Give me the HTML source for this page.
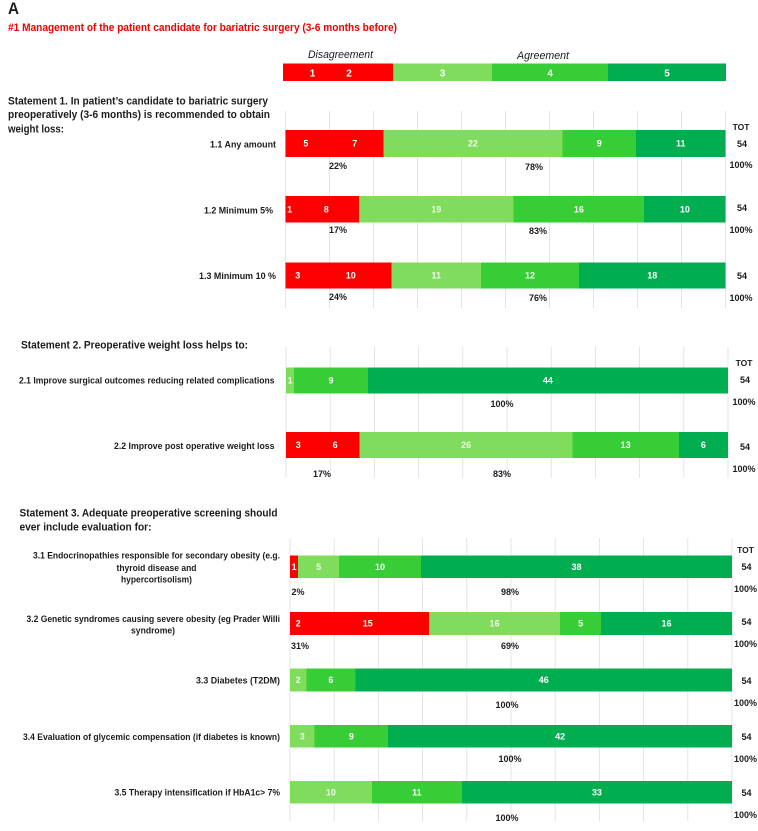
<!DOCTYPE html>
<html lang="en">
<head>
<meta charset="utf-8">
<title>Management of the patient candidate for bariatric surgery</title>
<style>
html,body{margin:0;padding:0;background:#fff;}
svg{display:block;}
text{font-family:"Liberation Sans",Arial,sans-serif;font-weight:bold;fill:#1c1c1c;}
rect{shape-rendering:crispEdges;}
</style>
</head>
<body>
<svg id="chart" xmlns="http://www.w3.org/2000/svg" width="758" height="831" viewBox="0 0 758 831">
  <rect x="0" y="0" width="758" height="831" fill="#fff"/>
  <text x="8" y="14" font-size="17" textLength="11" lengthAdjust="spacingAndGlyphs">A</text>
  <text x="8" y="31" font-size="11" style="fill:#f00000" textLength="389" lengthAdjust="spacingAndGlyphs">#1 Management of the patient candidate for bariatric surgery (3-6 months before)</text>
  <text x="308" y="58" font-size="11" style="font-weight:normal;font-style:italic" textLength="65" lengthAdjust="spacingAndGlyphs">Disagreement</text>
  <text x="517" y="59" font-size="11" style="font-weight:normal;font-style:italic" textLength="52" lengthAdjust="spacingAndGlyphs">Agreement</text>
  <g id="legend"></g>
  <text x="8" y="104.5" font-size="11" textLength="260" lengthAdjust="spacingAndGlyphs">Statement 1. In patient’s candidate to bariatric surgery</text>
  <text x="8" y="118" font-size="11" textLength="262" lengthAdjust="spacingAndGlyphs">preoperatively (3-6 months) is recommended to obtain</text>
  <text x="8" y="132.5" font-size="11" textLength="56" lengthAdjust="spacingAndGlyphs">weight loss:</text>
  <text x="21" y="348.5" font-size="11" textLength="227" lengthAdjust="spacingAndGlyphs">Statement 2. Preoperative weight loss helps to:</text>
  <text x="19.5" y="516.5" font-size="11" textLength="258" lengthAdjust="spacingAndGlyphs">Statement 3. Adequate preoperative screening should</text>
  <text x="19.5" y="530.5" font-size="11" textLength="132" lengthAdjust="spacingAndGlyphs">ever include evaluation for:</text>
  <g id="plot"></g>
</svg>
<script>
// ---- chart data ----
const rowCategories = ["1.1 Any amount","1.2 Minimum 5%","1.3 Minimum 10 %","2.1 Improve surgical outcomes reducing related complications","2.2 Improve post operative weight loss","3.1 Endocrinopathies","3.2 Genetic syndromes","3.3 Diabetes (T2DM)","3.4 Evaluation of glycemic compensation (if diabetes is known)","3.5 Therapy intensification if HbA1c> 7%"];
const answer1 = [5,1,3,0,3,0,2,0,0,0];
const answer2 = [7,8,10,0,6,1,15,0,0,0];
const answer3 = [22,19,11,1,26,5,16,2,3,10];
const answer4 = [9,16,12,9,13,10,5,6,9,11];
const answer5 = [11,10,18,44,6,38,16,46,42,33];
const disagreeLabels = ["22%","17%","24%","","17%","2%","31%","","",""];
const agreeLabels = ["78%","83%","76%","100%","83%","98%","69%","100%","100%","100%"];
const totalLabels = ["54","54","54","54","54","54","54","54","54","54"];
const totalPctLabels = ["100%","100%","100%","100%","100%","100%","100%","100%","100%","100%"];
const legendLabels = ["1","2","3","4","5"];
const legendShares = [0.248,0.224,0.262,0.266];
const axisMax = 54;
const gridDivisions = 10;

// ---- layout (not data) ----
const colors = ["#ff0000","#ff0000","#80dc5c","#36cd36","#00ae50"];
const panels = [
  {x0:285.5,x1:725.6,top:111,bottom:308,totX:741,rows:[0,1,2],totY:127},
  {x0:286,x1:728,top:347,bottom:478,totX:744,rows:[3,4],totY:363},
  {x0:290,x1:732,top:538,bottom:821,totX:745.5,rows:[5,6,7,8,9],totY:550}
];
const rowLayout = [
  {t:130,b:157,lx:276,lw:66,ly:144,dx:338,dy:166,ax:534,ay:167,ty:144,py:165},
  {t:196,b:222.5,lx:273,lw:69,ly:210,dx:338,dy:230,ax:538,ay:231,ty:208,py:230},
  {t:262.7,b:288.3,lx:276,lw:77,ly:275.5,dx:338,dy:297,ax:538,ay:298,ty:276,py:298},
  {t:367.3,b:393.3,lx:274.5,lw:255.5,ly:380,dx:0,dy:0,ax:502,ay:404,ty:380,py:402},
  {t:432,b:458,lx:274.5,lw:160.5,ly:445.5,dx:322,dy:474,ax:502,ay:474,ty:447,py:469},
  {t:555.7,b:578,lx:0,lw:0,ly:0,dx:298,dy:592,ax:510,ay:592,ty:567,py:589},
  {t:612,b:635,lx:0,lw:0,ly:0,dx:300,dy:646,ax:510,ay:646,ty:622,py:644},
  {t:668.7,b:691.3,lx:280,lw:84,ly:680,dx:0,dy:0,ax:507,ay:705,ty:681,py:703},
  {t:725,b:747.3,lx:280,lw:257,ly:736.5,dx:0,dy:0,ax:510,ay:759,ty:737,py:759},
  {t:781,b:803.7,lx:280,lw:165.5,ly:792,dx:0,dy:0,ax:507,ay:818,ty:793,py:815}
];

const NS = "http://www.w3.org/2000/svg";
const plot = document.getElementById("plot");
const legend = document.getElementById("legend");

function makeText(parent, x, yCenter, str, size, anchor, fill, width) {
  const el = document.createElementNS(NS, "text");
  el.setAttribute("x", x);
  el.setAttribute("y", yCenter + size * 0.36);
  el.setAttribute("font-size", size);
  el.setAttribute("text-anchor", anchor);
  if (fill) el.style.fill = fill;
  if (width) {
    el.setAttribute("textLength", width);
    el.setAttribute("lengthAdjust", "spacingAndGlyphs");
  }
  el.textContent = str;
  parent.appendChild(el);
  return el;
}

function makeRect(parent, x, y, w, h, fill) {
  const el = document.createElementNS(NS, "rect");
  el.setAttribute("x", x);
  el.setAttribute("y", y);
  el.setAttribute("width", w);
  el.setAttribute("height", h);
  el.setAttribute("fill", fill);
  parent.appendChild(el);
  return el;
}

// legend bar
(function () {
  const lx0 = 283, lx1 = 726, ly0 = 63.5, ly1 = 81;
  const w = lx1 - lx0;
  let cur = lx0;
  const redRect = makeRect(legend, cur, ly0, w * legendShares[0], ly1 - ly0, colors[0]);
  
  
  const l1 = makeText(legend, 312.5, 73, legendLabels[0], 10, "middle", "#fff");
  
  
  const l2 = makeText(legend, 349, 73, legendLabels[1], 10, "middle", "#fff");
  
  
  cur += w * legendShares[0];
  for (let i = 1; i < legendShares.length; i++) {
    const segW = w * legendShares[i];
    const r = makeRect(legend, cur, ly0, segW, ly1 - ly0, colors[i + 1]);
    
    
    const t = makeText(legend, cur + segW / 2, 73, legendLabels[i + 1], 10, "middle", "#fff");
    
    
    cur += segW;
  }
})();

const series = [answer1, answer2, answer3, answer4, answer5];

panels.forEach(function (p) {
  const scale = function (v) { return p.x0 + (v / axisMax) * (p.x1 - p.x0); };
  // gridlines
  for (let g = 0; g <= gridDivisions; g++) {
    const gx = scale(axisMax * g / gridDivisions);
    const line = document.createElementNS(NS, "line");
    line.setAttribute("x1", gx);
    line.setAttribute("x2", gx);
    line.setAttribute("y1", p.top);
    line.setAttribute("y2", p.bottom);
    line.setAttribute("stroke", "#dedede");
    line.setAttribute("stroke-width", "0.8");
    
    
    plot.appendChild(line);
  }
  const tot = makeText(plot, p.totX, p.totY, "TOT", 8.5, "middle");
  
  

  p.rows.forEach(function (ri) {
    const L = rowLayout[ri];
    let cum = 0;
    series.forEach(function (s, si) {
      const v = s[ri];
      if (v > 0) {
        const xa = scale(cum), xb = scale(cum + v);
        const r = makeRect(plot, xa, L.t, xb - xa, L.b - L.t, colors[si]);
        
        
      }
      cum += v;
    });
    cum = 0;
    series.forEach(function (s, si) {
      const v = s[ri];
      if (v > 0) {
        const xm = scale(cum + v / 2);
        const t = makeText(plot, xm, (L.t + L.b) / 2, String(v), 9, "middle", si === 2 ? "#eefae8" : "#fff");
        
        
      }
      cum += v;
    });
    if (L.lw > 0) {
      const c = makeText(plot, L.lx - L.lw, L.ly, rowCategories[ri], 9.5, "start", null, L.lw);
      
      
    }
    if (disagreeLabels[ri]) {
      const d = makeText(plot, L.dx, L.dy, disagreeLabels[ri], 9, "middle");
      
      
    }
    const a = makeText(plot, L.ax, L.ay, agreeLabels[ri], 9, "middle");
    
    
    const tv = makeText(plot, p.totX + 1, L.ty, totalLabels[ri], 9, "middle");
    
    
    const tp = makeText(plot, p.totX, L.py, totalPctLabels[ri], 9, "middle");
    
    
  });
});

// multi-line row labels
const l31a = makeText(plot, 33, 555, "3.1 Endocrinopathies responsible for secondary obesity (e.g.", 9.5, "start", null, 247);


const l31b = makeText(plot, 116.5, 567.7, "thyroid disease and", 9.5, "start", null, 80);


const l31c = makeText(plot, 121, 579, "hypercortisolism)", 9.5, "start", null, 71);


const l32a = makeText(plot, 26.5, 618.7, "3.2 Genetic syndromes causing severe obesity (eg Prader Willi", 9.5, "start", null, 253.5);


const l32b = makeText(plot, 131, 630, "syndrome)", 9.5, "start", null, 44);


</script>
</body>
</html>
